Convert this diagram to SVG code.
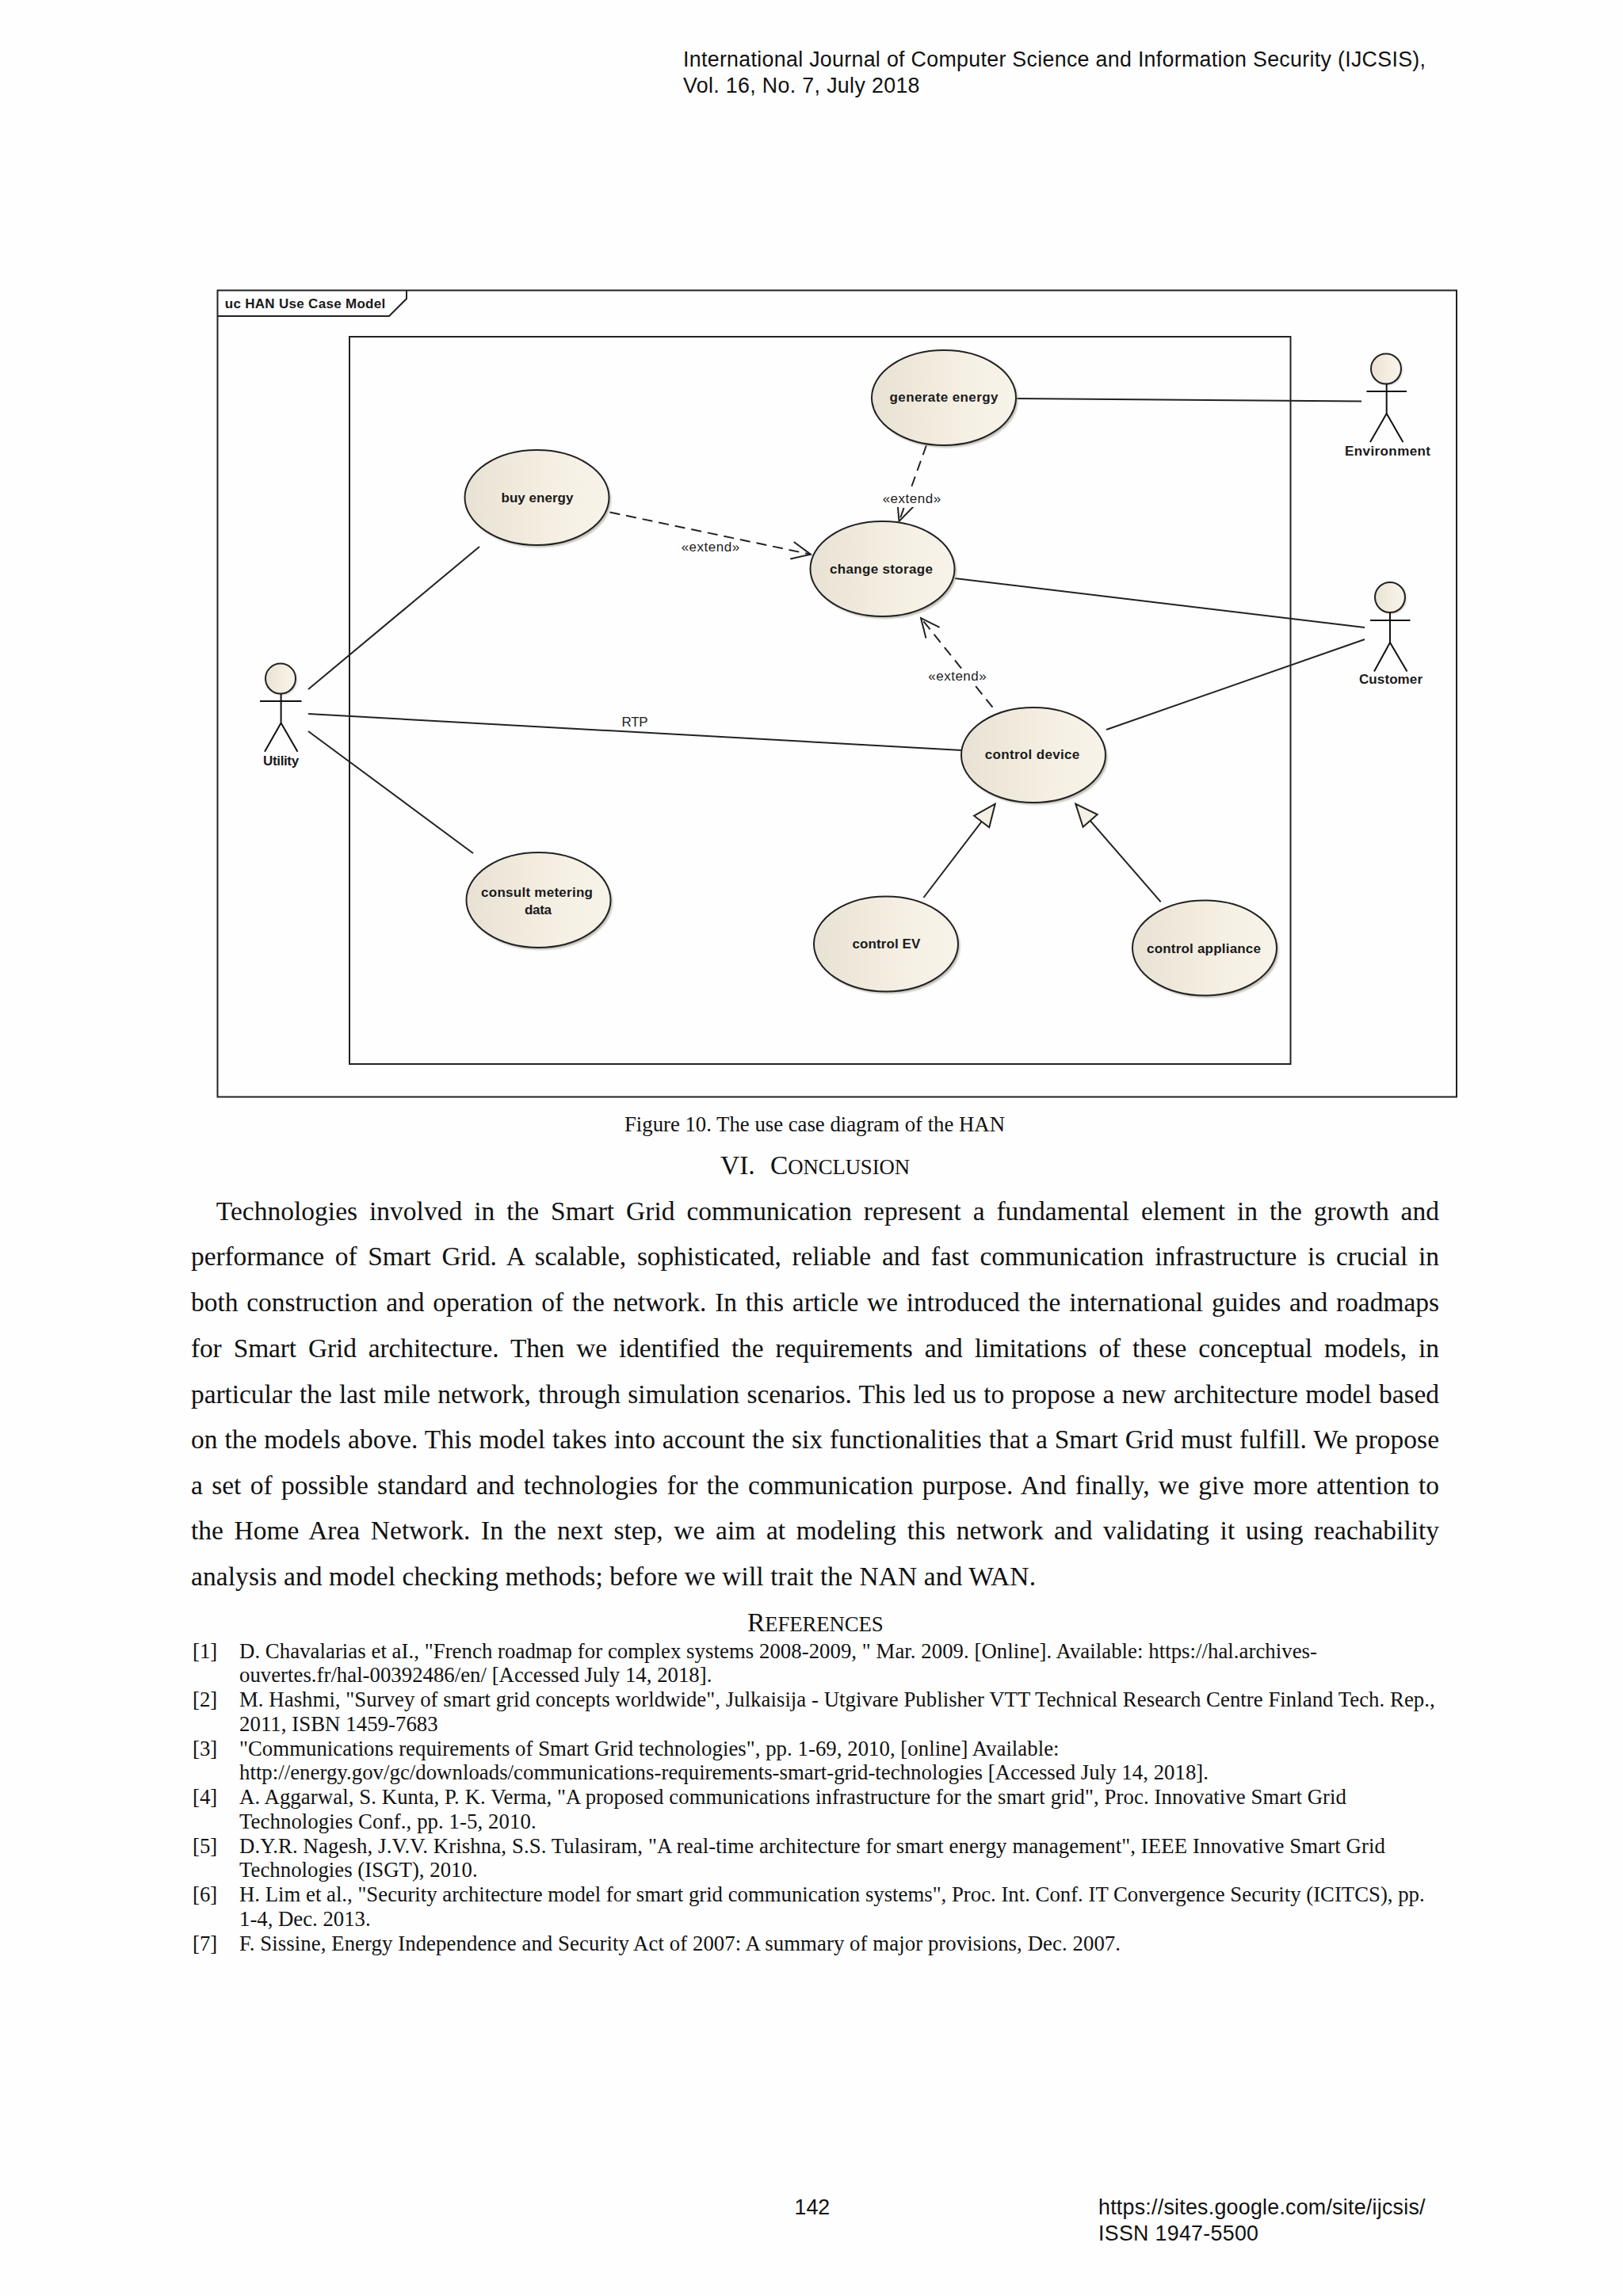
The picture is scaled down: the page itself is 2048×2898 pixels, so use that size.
<svg xmlns="http://www.w3.org/2000/svg" width="2048" height="2898" viewBox="0 0 2048 2898">
<defs>
<linearGradient id="cream" x1="0" y1="0" x2="1" y2="0"><stop offset="0" stop-color="#e8e2d4"/><stop offset="0.6" stop-color="#f5efe3"/><stop offset="1" stop-color="#f8f3e9"/></linearGradient>
<filter id="soft" x="-10%" y="-10%" width="120%" height="120%"><feGaussianBlur stdDeviation="1.2"/></filter>
<marker id="open" viewBox="-26 -14 28 28" markerWidth="28" markerHeight="28" refX="0" refY="0" markerUnits="userSpaceOnUse" orient="auto"><path d="M-24 -11L0 0L-24 11" fill="none" stroke="#222" stroke-width="2"/></marker>
<marker id="tri" viewBox="-34 -18 36 36" markerWidth="36" markerHeight="36" refX="0" refY="0" markerUnits="userSpaceOnUse" orient="auto"><path d="M-28 -12L0 0L-28 12Z" fill="#f4f0e4" stroke="#222" stroke-width="2"/></marker>
</defs>
<style>
.bg{fill:#fefefe}
.frame{fill:none;stroke:#222;stroke-width:2}
.shadow{fill:#a8a49a;opacity:.7;filter:url(#soft)}
.uc{fill:url(#cream);stroke:#222;stroke-width:2}
.line{fill:none;stroke:#222;stroke-width:2}
.dash{fill:none;stroke:#222;stroke-width:2;stroke-dasharray:13 8}
.stick{fill:none;stroke:#111;stroke-width:2}
.lbl{font-family:"Liberation Sans",Arial,sans-serif;font-weight:700;font-size:17px;fill:#1a1a1a;text-anchor:middle}
.reg{font-family:"Liberation Sans",Arial,sans-serif;font-size:17px;fill:#222;text-anchor:middle}
.b{font-family:"Liberation Serif","Times New Roman",serif;font-size:33.46px;fill:#111}
.r{font-family:"Liberation Serif","Times New Roman",serif;font-size:26.77px;fill:#111}
.s{font-size:26.77px}
.a{font-family:"Liberation Sans",Arial,sans-serif;font-size:26.77px;fill:#111}
</style>
<rect class="bg" width="2048" height="2898"/>
<g id="page-header"><text class="a" x="862" y="84" textLength="937">International Journal of Computer Science and Information Security (IJCSIS),</text><text class="a" x="862" y="117" textLength="298.5">Vol. 16, No. 7, July 2018</text></g>
<g id="frame"><rect class="frame" x="274.5" y="366.5" width="1563.5" height="1018"/><path class="frame" d="M274.5 399H491L513 377V366.5"/><text class="lbl" x="385" y="388.5" textLength="202.5">uc HAN Use Case Model</text></g>
<g id="boundary"><rect class="frame" x="441" y="425" width="1187.5" height="918"/></g>
<g id="connectors">
<path class="line" d="M389 870L605 690"/>
<path class="line" d="M389 901L1213.5 947"/>
<path class="line" d="M389 923L597 1077"/>
<path class="line" d="M1283 503L1718 506.5"/>
<path class="line" d="M1205 730L1722 792"/>
<path class="line" d="M1396 921L1722 807"/>
<path class="dash" d="M769.5 646.5L1023 699.7" marker-end="url(#open)"/>
<path class="dash" d="M1169 562L1134.5 658" marker-end="url(#open)"/>
<path class="dash" d="M1252.5 892.7L1162 780" marker-end="url(#open)"/>
<path class="line" d="M1165.4 1133L1255.7 1014.7" marker-end="url(#tri)"/>
<path class="line" d="M1464.7 1138.4L1357.3 1014.7" marker-end="url(#tri)"/>
<rect class="bg" x="1112" y="620" width="76" height="20"/>
<rect class="bg" x="1170" y="844" width="76" height="20"/>
<text class="reg" x="801" y="917" textLength="33">RTP</text>
<text class="reg" x="896.4" y="695.5" textLength="73.5">«extend»</text>
<text class="reg" x="1150.4" y="634.5" textLength="73.5">«extend»</text>
<text class="reg" x="1208" y="858.8" textLength="73.5">«extend»</text>
</g>
<g id="uc-buy-energy"><ellipse class="shadow" cx="680" cy="631" rx="91" ry="60"/><ellipse class="uc" cx="677.5" cy="628" rx="91" ry="60"/><text class="lbl" x="678" y="634" textLength="91">buy energy</text></g>
<g id="uc-generate-energy"><ellipse class="shadow" cx="1193.5" cy="505" rx="91" ry="60"/><ellipse class="uc" cx="1191" cy="502" rx="91" ry="60"/><text class="lbl" x="1191" y="507" textLength="137">generate energy</text></g>
<g id="uc-change-storage"><ellipse class="shadow" cx="1116" cy="721" rx="91" ry="60"/><ellipse class="uc" cx="1113.5" cy="718" rx="91" ry="60"/><text class="lbl" x="1112" y="723.5" textLength="130">change storage</text></g>
<g id="uc-control-device"><ellipse class="shadow" cx="1306.5" cy="956" rx="91" ry="60"/><ellipse class="uc" cx="1304" cy="953" rx="91" ry="60"/><text class="lbl" x="1302.5" y="958" textLength="119.5">control device</text></g>
<g id="uc-consult-metering"><ellipse class="shadow" cx="682" cy="1139" rx="91" ry="60"/><ellipse class="uc" cx="679.5" cy="1136" rx="91" ry="60"/><text class="lbl" x="677.5" y="1132" textLength="141">consult metering</text><text class="lbl" x="679" y="1154" textLength="34">data</text></g>
<g id="uc-control-ev"><ellipse class="shadow" cx="1120.5" cy="1194.5" rx="91" ry="60"/><ellipse class="uc" cx="1118" cy="1191.5" rx="91" ry="60"/><text class="lbl" x="1118.4" y="1197" textLength="86">control EV</text></g>
<g id="uc-control-appliance"><ellipse class="shadow" cx="1522.5" cy="1199.5" rx="91" ry="60"/><ellipse class="uc" cx="1520" cy="1196.5" rx="91" ry="60"/><text class="lbl" x="1519" y="1202.5" textLength="144">control appliance</text></g>
<g id="actor-utility"><circle class="shadow" cx="355.5" cy="858" r="19"/><circle class="uc" cx="354" cy="856.6" r="19"/><path class="stick" d="M328 885H380.6M354.6 876V912.4L334 948.7M354.6 912.4L375.5 948.7"/><text class="lbl" x="354.6" y="965.5" textLength="45">Utility</text></g>
<g id="actor-environment"><circle class="shadow" cx="1750.5" cy="467" r="19"/><circle class="uc" cx="1749" cy="465.5" r="19"/><path class="stick" d="M1724.5 494H1775M1749.7 484.5V522L1729 558M1749.7 522L1770.4 558"/><text class="lbl" x="1751" y="575" textLength="108">Environment</text></g>
<g id="actor-customer"><circle class="shadow" cx="1755.5" cy="755.5" r="19"/><circle class="uc" cx="1754" cy="754" r="19"/><path class="stick" d="M1729 783H1779.5M1754 773V811L1734 847.6M1754 811L1775.5 847.6"/><text class="lbl" x="1755" y="863" textLength="80">Customer</text></g>
<g id="body-text">
<text class="r" x="788" y="1428" textLength="480">Figure 10. The use case diagram of the HAN</text>
<text class="b" x="909" y="1481.5">VI.</text><text class="b" x="972" y="1481.5" textLength="176">C<tspan class="s">ONCLUSION</tspan></text>
<text class="b" x="272.8" y="1539.7" textLength="1543.2" style="word-spacing:6.5px">Technologies involved in the Smart Grid communication represent a fundamental element in the growth and</text>
<text class="b" x="241" y="1597.3" textLength="1575" style="word-spacing:5.5px">performance of Smart Grid. A scalable, sophisticated, reliable and fast communication infrastructure is crucial in</text>
<text class="b" x="241" y="1655" textLength="1575" style="word-spacing:2.4px">both construction and operation of the network. In this article we introduced the international guides and roadmaps</text>
<text class="b" x="241" y="1712.9" textLength="1575" style="word-spacing:6.8px">for Smart Grid architecture. Then we identified the requirements and limitations of these conceptual models, in</text>
<text class="b" x="241" y="1770.6" textLength="1575" style="word-spacing:1.1px">particular the last mile network, through simulation scenarios. This led us to propose a new architecture model based</text>
<text class="b" x="241" y="1828.2" textLength="1575" style="word-spacing:.5px">on the models above. This model takes into account the six functionalities that a Smart Grid must fulfill. We propose</text>
<text class="b" x="241" y="1885.8" textLength="1575" style="word-spacing:2.9px">a set of possible standard and technologies for the communication purpose. And finally, we give more attention to</text>
<text class="b" x="241" y="1943.4" textLength="1575" style="word-spacing:5.3px">the Home Area Network. In the next step, we aim at modeling this network and validating it using reachability</text>
<text class="b" x="241" y="2001" textLength="1066">analysis and model checking methods; before we will trait the NAN and WAN.</text>
</g>
<g id="references">
<text class="b" x="943" y="2059.3" textLength="171.7">R<tspan class="s">EFERENCES</tspan></text>
<text class="r" x="243" y="2092.7">[1]</text><text class="r" x="302" y="2092.7" textLength="1360">D. Chavalarias et aI., "French roadmap for complex systems 2008-2009, " Mar. 2009. [Online]. Available: https://hal.archives-</text>
<text class="r" x="302" y="2123.4" textLength="596.4">ouvertes.fr/hal-00392486/en/ [Accessed July 14, 2018].</text>
<text class="r" x="243" y="2154.2">[2]</text><text class="r" x="302" y="2154.2" textLength="1508.7">M. Hashmi, "Survey of smart grid concepts worldwide", Julkaisija - Utgivare Publisher VTT Technical Research Centre Finland Tech. Rep.,</text>
<text class="r" x="302" y="2184.9" textLength="250.7">2011, ISBN 1459-7683</text>
<text class="r" x="243" y="2215.7">[3]</text><text class="r" x="302" y="2215.7" textLength="1034.5">"Communications requirements of Smart Grid technologies", pp. 1-69, 2010, [online] Available:</text>
<text class="r" x="302" y="2246.4" textLength="1223">http://energy.gov/gc/downloads/communications-requirements-smart-grid-technologies [Accessed July 14, 2018].</text>
<text class="r" x="243" y="2277.2">[4]</text><text class="r" x="302" y="2277.2" textLength="1397">A. Aggarwal, S. Kunta, P. K. Verma, "A proposed communications infrastructure for the smart grid", Proc. Innovative Smart Grid</text>
<text class="r" x="302" y="2307.9" textLength="374.6">Technologies Conf., pp. 1-5, 2010.</text>
<text class="r" x="243" y="2338.7">[5]</text><text class="r" x="302" y="2338.7" textLength="1446">D.Y.R. Nagesh, J.V.V. Krishna, S.S. Tulasiram, "A real-time architecture for smart energy management", IEEE Innovative Smart Grid</text>
<text class="r" x="302" y="2369.4" textLength="300.6">Technologies (ISGT), 2010.</text>
<text class="r" x="243" y="2400.2">[6]</text><text class="r" x="302" y="2400.2" textLength="1495.7">H. Lim et al., "Security architecture model for smart grid communication systems", Proc. Int. Conf. IT Convergence Security (ICITCS), pp.</text>
<text class="r" x="302" y="2430.9" textLength="165.7">1-4, Dec. 2013.</text>
<text class="r" x="243" y="2461.7">[7]</text><text class="r" x="302" y="2461.7" textLength="1112">F. Sissine, Energy Independence and Security Act of 2007: A summary of major provisions, Dec. 2007.</text>
</g>
<g id="page-footer"><text class="a" x="1002.5" y="2795">142</text><text class="a" x="1386" y="2795" textLength="412.5">https://sites.google.com/site/ijcsis/</text><text class="a" x="1386" y="2828" textLength="202">ISSN 1947-5500</text></g>
</svg>
